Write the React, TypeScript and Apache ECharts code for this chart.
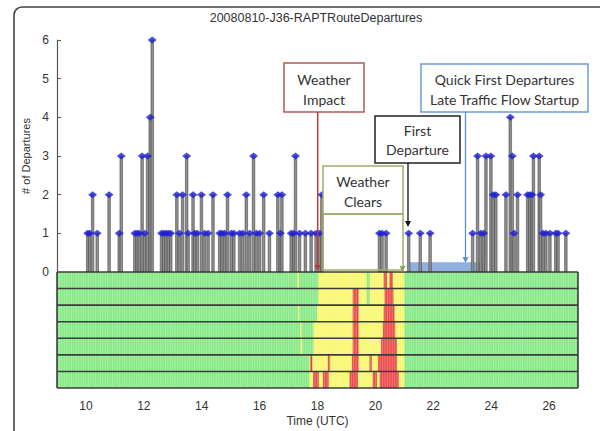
import React, { useEffect, useRef } from "react";
import * as echarts from "echarts";

const TITLE = "20080810-J36-RAPTRouteDepartures";
const X_MIN = 9;
const X_MAX = 27;
const ROWS = 7;

// departure stems: time (UTC hours) and count
const depTimes = [
  10.06, 10.13, 10.23, 10.39, 10.8, 11.15, 11.22, 11.69, 11.77, 11.84, 11.94, 12.03, 12.13, 12.22, 12.29,
  12.61, 12.69, 12.77, 12.85, 12.93, 13.14, 13.23, 13.34, 13.48, 13.53, 13.7, 13.76, 13.85, 13.99, 14.1,
  14.22, 14.39, 14.62, 14.7, 14.79, 14.89, 15.02, 15.11, 15.31, 15.42, 15.54, 15.66, 15.79, 15.89, 16.0,
  16.14, 16.34, 16.63, 16.72, 16.77, 17.09, 17.18, 17.24, 17.38, 17.58, 17.78, 17.95, 18.07, 18.15,
  20.14, 20.23, 20.37, 21.15, 21.55, 21.89,
  23.36, 23.53, 23.64, 23.74, 23.82, 23.99, 24.07, 24.16, 24.51, 24.66, 24.73, 24.79, 24.91, 25.26, 25.34,
  25.41, 25.46, 25.66, 25.71, 25.79, 25.89, 26.03, 26.23, 26.31, 26.58,
];
const depCounts = [
  1, 1, 2, 1, 2, 1, 3, 1, 1, 1, 3, 1, 3, 4, 6,
  1, 1, 1, 1, 1, 2, 1, 2, 3, 1, 2, 1, 1, 2, 1,
  1, 2, 1, 1, 1, 2, 1, 1, 1, 1, 2, 1, 3, 1, 1,
  2, 1, 2, 1, 2, 1, 1, 3, 1, 1, 1, 1, 1, 2,
  1, 1, 1, 1, 1, 1,
  1, 3, 1, 1, 3, 3, 2, 2, 2, 4, 3, 1, 2, 2, 2,
  2, 3, 3, 2, 1, 1, 1, 1, 1, 1,
];

// shaded "late startup" span
const lateStart = 21.13;
const lateEnd = 23.72;
const lateHeight = 0.25;

// weather per route row: [start, end, level]  level 1 = yellow, 2 = red (green elsewhere)
const row0 = [[17.3, 17.36, 1], [18.03, 19.7, 1], [19.8, 21.0, 1], [20.3, 20.39, 2], [20.5, 20.59, 2]];
const row1 = [[18.03, 19.7, 1], [19.8, 21.0, 1], [19.23, 19.41, 2], [20.33, 20.61, 2]];
const row2 = [[17.32, 17.37, 1], [17.98, 21.0, 1], [19.23, 19.41, 2], [20.3, 20.65, 2]];
const row3 = [[17.4, 17.45, 1], [17.86, 21.0, 1], [19.23, 19.41, 2], [20.27, 20.67, 2]];
const row4 = [[17.42, 17.47, 1], [17.86, 21.0, 1], [19.23, 19.41, 2], [20.21, 20.73, 2]];
const row5 = [[17.72, 21.0, 1], [17.76, 17.81, 2], [18.37, 18.42, 2], [19.2, 19.41, 2], [19.81, 19.86, 2], [20.1, 20.73, 2]];
const row6 = [[17.72, 21.0, 1], [17.86, 18.03, 2], [18.2, 18.37, 2], [19.12, 19.38, 2], [19.92, 20.04, 2], [20.16, 20.79, 2]];
const weatherRows = [row0, row1, row2, row3, row4, row5, row6];

const LEVEL_COLORS = ["#86e986", "#f8f86e", "#ec4a4a"];
const FONT = "Liberation Sans, Arial, sans-serif";
const BOX_FONT = "Lato, 'Open Sans', sans-serif";

export default function App() {
  const ref = useRef<HTMLDivElement>(null);
  useEffect(() => {
    if (!ref.current) return;
    const chart = echarts.init(ref.current, null, { renderer: "svg" });

    const stemData = depTimes.map((t, i) => [t, depCounts[i]]);
    const cellData: number[][] = [];
    weatherRows.forEach((row, r) => {
      cellData.push([X_MIN, X_MAX, r, 0]);
      row.forEach((s) => cellData.push([s[0], s[1], r, s[2]]));
    });

    const arrow = (x: number, yTip: number, color: string) => ({
      type: "polygon",
      shape: { points: [[x - 3, yTip - 6], [x + 3, yTip - 6], [x, yTip]] },
      style: { fill: color },
      z: 100,
    });
    const boxText = (x: number, y: number, text: string) => ({
      type: "text",
      x,
      y,
      style: { text, fill: "#333", font: `14px ${BOX_FONT}`, align: "center", verticalAlign: "middle" },
      z: 101,
    });

    chart.setOption({
      animation: false,
      backgroundColor: "#fff",
      grid: [
        { left: 57, right: 22, top: 40, height: 232, containLabel: false, outerBoundsMode: "none" },
        { left: 57, right: 22, top: 272, height: 116, containLabel: false, outerBoundsMode: "none" },
      ],
      xAxis: [
        { type: "value", gridIndex: 0, min: X_MIN, max: X_MAX, show: false },
        {
          type: "value",
          gridIndex: 1,
          min: X_MIN,
          max: X_MAX,
          interval: 1,
          axisLine: { show: false },
          axisTick: { show: false },
          splitLine: { show: false },
          axisLabel: {
            margin: 12,
            fontSize: 12,
            color: "#333",
            fontFamily: FONT,
            formatter: (v: number) => (v % 2 === 0 ? String(v) : ""),
          },
          name: "Time (UTC)",
          nameLocation: "middle",
          nameGap: 27,
          nameTextStyle: { fontSize: 12, color: "#333", fontFamily: FONT },
        },
      ],
      yAxis: [
        {
          type: "value",
          gridIndex: 0,
          min: 0,
          max: 6,
          interval: 1,
          axisLine: { show: true, lineStyle: { color: "#555", width: 1.2 } },
          axisTick: { show: true, inside: true, length: 4, lineStyle: { color: "#555" } },
          splitLine: { show: false },
          axisLabel: { margin: 8, fontSize: 12, color: "#333", fontFamily: FONT },
          name: "# of Departures",
          nameLocation: "middle",
          nameGap: 21,
          nameRotate: 90,
          nameTextStyle: { fontSize: 11, color: "#333", fontFamily: FONT },
        },
        { type: "value", gridIndex: 1, min: 0, max: ROWS, show: false },
      ],
      series: [
        {
          type: "custom",
          xAxisIndex: 0,
          yAxisIndex: 0,
          data: stemData,
          encode: { x: 0, y: 1 },
          z: 3,
          renderItem: (params: any, api: any) => {
            const t = api.value(0);
            const v = api.value(1);
            const top = api.coord([t, v]);
            const bot = api.coord([t, 0]);
            return {
              type: "rect",
              shape: { x: top[0] - 1.3, y: top[1], width: 2.6, height: bot[1] - top[1] },
              style: { fill: "#8d8d8d", stroke: "#3d3d3d", lineWidth: 0.5 },
            };
          },
          markArea: {
            silent: true,
            itemStyle: { color: "rgba(110,150,210,0.75)" },
            data: [[{ xAxis: lateStart, yAxis: 0 }, { xAxis: lateEnd, yAxis: lateHeight }]],
          },
        },
        {
          type: "scatter",
          xAxisIndex: 0,
          yAxisIndex: 0,
          data: stemData,
          symbol: "diamond",
          symbolSize: [9, 7],
          itemStyle: { color: "#1f1fd2" },
          z: 4,
        },
        {
          type: "custom",
          xAxisIndex: 1,
          yAxisIndex: 1,
          data: cellData,
          encode: { x: [0, 1], y: 2 },
          z: 2,
          renderItem: (params: any, api: any) => {
            const s = api.value(0);
            const e = api.value(1);
            const r = api.value(2);
            const lvl = api.value(3);
            const p1 = api.coord([s, ROWS - r]);
            const p2 = api.coord([e, ROWS - r - 1]);
            return {
              type: "rect",
              shape: { x: p1[0], y: p1[1], width: p2[0] - p1[0], height: p2[1] - p1[1] },
              style: { fill: LEVEL_COLORS[lvl], stroke: lvl === 2 ? "#c83a3a" : null, lineWidth: lvl === 2 ? 0.6 : 0 },
            };
          },
        },
        {
          type: "custom",
          xAxisIndex: 1,
          yAxisIndex: 1,
          data: [[X_MIN, 0]],
          z: 3,
          silent: true,
          renderItem: (params: any, api: any) => {
            const children: any[] = [];
            const step = 1 / 12;
            for (let t = X_MIN + step; t < X_MAX - 1e-6; t += step) {
              const a = api.coord([t, ROWS]);
              const b = api.coord([t, 0]);
              children.push({
                type: "line",
                shape: { x1: a[0], y1: a[1], x2: b[0], y2: b[1] },
                style: { stroke: "rgba(255,255,255,0.35)", lineWidth: 0.8 },
              });
            }
            for (let r = 0; r <= ROWS; r++) {
              const a = api.coord([X_MIN, r]);
              const b = api.coord([X_MAX, r]);
              children.push({
                type: "line",
                shape: { x1: a[0], y1: a[1], x2: b[0], y2: b[1] },
                style: { stroke: "#3c3c3c", lineWidth: 1.6 },
              });
            }
            [X_MIN, X_MAX].forEach((t) => {
              const a = api.coord([t, ROWS]);
              const b = api.coord([t, 0]);
              children.push({
                type: "line",
                shape: { x1: a[0], y1: a[1], x2: b[0], y2: b[1] },
                style: { stroke: "#3c3c3c", lineWidth: 1.6 },
              });
            });
            return { type: "group", children };
          },
        },
      ],
      graphic: [
        {
          type: "rect",
          shape: { x: 14, y: 7, width: 640, height: 480, r: 8 },
          style: { fill: "none", stroke: "#444", lineWidth: 1.6 },
          z: 0,
        },
        {
          type: "text",
          x: 316,
          y: 18,
          style: { text: TITLE, fill: "#333", font: `12.5px ${FONT}`, align: "center", verticalAlign: "middle" },
          z: 100,
        },
        // Weather Impact
        { type: "rect", shape: { x: 284, y: 63, width: 80, height: 49 }, style: { fill: "#fff", stroke: "#b55555", lineWidth: 1.5 }, z: 100 },
        boxText(324, 79, "Weather"),
        boxText(324, 99, "Impact"),
        { type: "line", shape: { x1: 317.7, y1: 112, x2: 317.7, y2: 266 }, style: { stroke: "#b23a3a", lineWidth: 1.5 }, z: 100 },
        arrow(317.7, 271, "#b23a3a"),
        // Quick First Departures
        { type: "rect", shape: { x: 421, y: 64, width: 167, height: 48 }, style: { fill: "#fff", stroke: "#6d9bd8", lineWidth: 1.5 }, z: 100 },
        boxText(504.5, 79, "Quick First Departures"),
        boxText(504.5, 99, "Late Traffic Flow Startup"),
        { type: "line", shape: { x1: 465.5, y1: 112, x2: 465.5, y2: 258 }, style: { stroke: "#5b8fd2", lineWidth: 1.3 }, z: 100 },
        arrow(465.5, 263, "#5b8fd2"),
        // First Departure
        { type: "rect", shape: { x: 375, y: 116, width: 85, height: 47 }, style: { fill: "#fff", stroke: "#222", lineWidth: 1.5 }, z: 100 },
        boxText(417.5, 130, "First"),
        boxText(417.5, 149, "Departure"),
        { type: "line", shape: { x1: 408, y1: 163, x2: 408, y2: 222 }, style: { stroke: "#111", lineWidth: 1.3 }, z: 100 },
        arrow(408, 227, "#111"),
        // Weather Clears
        { type: "rect", shape: { x: 323, y: 166, width: 80, height: 48 }, style: { fill: "#fff", stroke: "#9aae6a", lineWidth: 1.5 }, z: 100 },
        { type: "rect", shape: { x: 323, y: 214, width: 80, height: 56 }, style: { fill: "none", stroke: "#9aae6a", lineWidth: 1.5 }, z: 100 },
        boxText(363, 181, "Weather"),
        boxText(363, 201, "Clears"),
        arrow(402.5, 272, "#8fa55a"),
      ],
    });
    return () => chart.dispose();
  }, []);
  return <div ref={ref} style={{ width: 600, height: 431, position: "absolute", left: 0, top: 0 }} />;
}
